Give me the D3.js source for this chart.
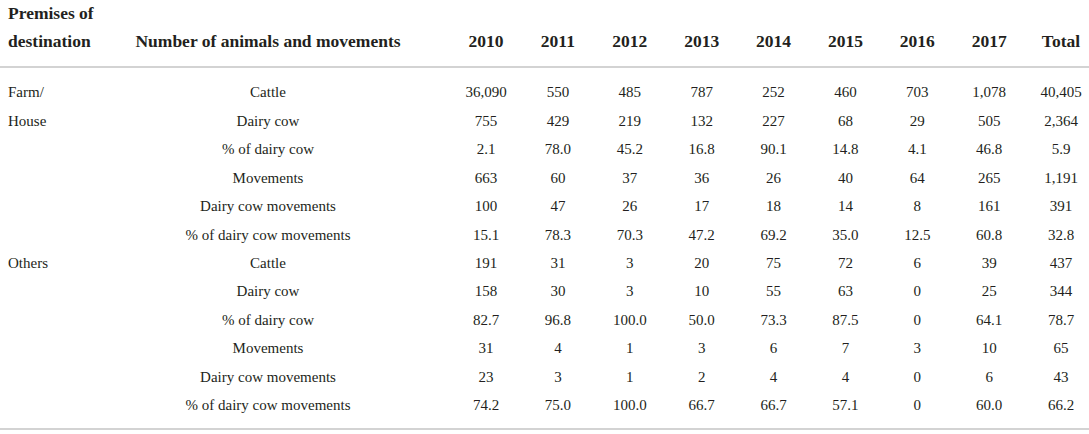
<!DOCTYPE html>
<html>
<head>
<meta charset="utf-8">
<script src="https://d3js.org/d3.v7.min.js"></script>
<style>
  body { margin: 0; background: #fff; }
  text { font-family: "Liberation Serif", "DejaVu Serif", serif; fill: #231f20; }
  .hd { font-weight: bold; font-size: 17.5px; }
  .cell { font-size: 15px; }
</style>
</head>
<body>
<svg id="tbl" width="1089" height="434"></svg>
<script>
  // column headers
  var columns = ['2010', '2011', '2012', '2013', '2014', '2015', '2016', '2017', 'Total'];
  var measures = ['Cattle', 'Dairy cow', '% of dairy cow', 'Movements',
                  'Dairy cow movements', '% of dairy cow movements'];

  // premises of destination
  var farmLabel = ['Farm/', 'House'];
  var farmValues = [
    ['36,090', '550', '485', '787', '252', '460', '703', '1,078', '40,405'],
    ['755', '429', '219', '132', '227', '68', '29', '505', '2,364'],
    ['2.1', '78.0', '45.2', '16.8', '90.1', '14.8', '4.1', '46.8', '5.9'],
    ['663', '60', '37', '36', '26', '40', '64', '265', '1,191'],
    ['100', '47', '26', '17', '18', '14', '8', '161', '391'],
    ['15.1', '78.3', '70.3', '47.2', '69.2', '35.0', '12.5', '60.8', '32.8']
  ];
  var otherLabel = ['Others'];
  var otherValues = [
    ['191', '31', '3', '20', '75', '72', '6', '39', '437'],
    ['158', '30', '3', '10', '55', '63', '0', '25', '344'],
    ['82.7', '96.8', '100.0', '50.0', '73.3', '87.5', '0', '64.1', '78.7'],
    ['31', '4', '1', '3', '6', '7', '3', '10', '65'],
    ['23', '3', '1', '2', '4', '4', '0', '6', '43'],
    ['74.2', '75.0', '100.0', '66.7', '66.7', '57.1', '0', '60.0', '66.2']
  ];

  var rows = [];
  farmValues.forEach(function(v, i) { rows.push({ measure: measures[i], values: v }); });
  otherValues.forEach(function(v, i) { rows.push({ measure: measures[i], values: v }); });

  var svg = d3.select('#tbl');

  var x = d3.scalePoint().domain(columns).range([486, 1061]);
  var y = d3.scalePoint().domain(d3.range(rows.length)).range([92, 405]);
  var labelX = 268;

  // header
  svg.append('text').attr('class', 'hd').attr('x', 8).attr('y', 19).text('Premises of');
  svg.append('text').attr('class', 'hd').attr('x', 8).attr('y', 47).text('destination');
  svg.append('text').attr('class', 'hd').attr('x', labelX).attr('y', 47)
    .attr('text-anchor', 'middle').text('Number of animals and movements');
  svg.selectAll('.colhd')
    .data(columns)
    .enter().append('text')
    .attr('class', 'hd colhd')
    .attr('x', function(d) { return x(d); })
    .attr('y', 47)
    .attr('text-anchor', 'middle')
    .text(function(d) { return d; });

  // rules
  svg.append('line').attr('x1', 0).attr('x2', 1089).attr('y1', 67).attr('y2', 67)
    .attr('stroke', '#d3d3d3').attr('stroke-width', 2);
  svg.append('line').attr('x1', 0).attr('x2', 1089).attr('y1', 429).attr('y2', 429)
    .attr('stroke', '#d3d3d3').attr('stroke-width', 2);

  // group labels
  farmLabel.forEach(function(t, i) {
    svg.append('text').attr('class', 'cell').attr('x', 8).attr('y', y(i))
      .attr('dy', '0.35em').text(t);
  });
  otherLabel.forEach(function(t, i) {
    svg.append('text').attr('class', 'cell').attr('x', 8).attr('y', y(farmValues.length + i))
      .attr('dy', '0.35em').text(t);
  });

  // body rows
  var g = svg.selectAll('.row')
    .data(rows)
    .enter().append('g')
    .attr('class', 'row')
    .attr('transform', function(d, i) { return 'translate(0,' + y(i) + ')'; });

  g.append('text')
    .attr('class', 'cell')
    .attr('x', labelX)
    .attr('dy', '0.35em')
    .attr('text-anchor', 'middle')
    .text(function(d) { return d.measure; });

  g.selectAll('.val')
    .data(function(d) { return d.values; })
    .enter().append('text')
    .attr('class', 'cell val')
    .attr('x', function(d, i) { return x(columns[i]); })
    .attr('dy', '0.35em')
    .attr('text-anchor', 'middle')
    .text(function(d) { return d; });
</script>
</body>
</html>
